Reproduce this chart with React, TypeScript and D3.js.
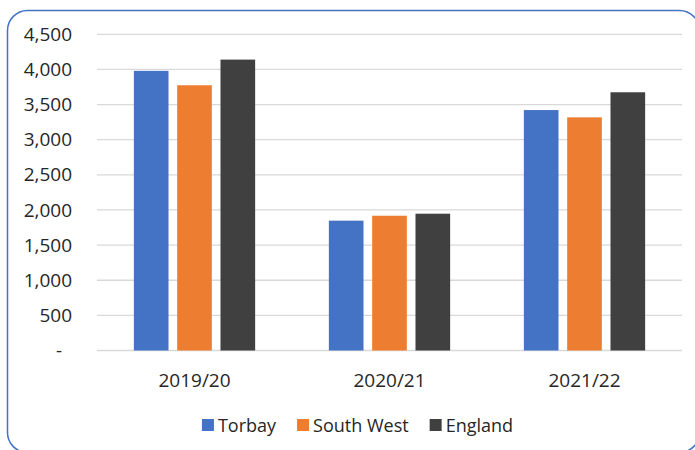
import React, { useEffect, useRef } from "react";
import * as d3 from "d3";

const categories = ["2019/20", "2020/21", "2021/22"];
const seriesNames = ["Torbay", "South West", "England"];
const torbay = [3980, 1848, 3422];
const southWest = [3775, 1918, 3318];
const england = [4140, 1947, 3675];
const yTicks = [0, 500, 1000, 1500, 2000, 2500, 3000, 3500, 4000, 4500];

const colors = ["#4472C4", "#ED7D31", "#404040"];
const FONT = "'Open Sans', 'Noto Sans', sans-serif";

const App: React.FC = () => {
  const svgRef = useRef<SVGSVGElement>(null);

  useEffect(() => {
    const width = 695;
    const height = 450;
    const margin = { top: 34.3, right: 13, bottom: 99.5, left: 97 };

    const svg = d3.select(svgRef.current).attr("width", width).attr("height", height);
    svg.selectAll("*").remove();

    // chart frame
    svg
      .append("rect")
      .attr("x", 7.5)
      .attr("y", 10.5)
      .attr("width", 692)
      .attr("height", 442)
      .attr("rx", 20)
      .attr("fill", "#fff")
      .attr("stroke", "#4472C4")
      .attr("stroke-width", 1.5);

    const x0 = d3
      .scaleBand()
      .domain(categories)
      .range([margin.left, width - margin.right])
      .paddingInner(0.378)
      .paddingOuter(0.189);

    const x1 = d3.scaleBand().domain(seriesNames).range([0, x0.bandwidth()]).paddingInner(0.2);

    const y = d3
      .scaleLinear()
      .domain([0, 4500])
      .range([height - margin.bottom, margin.top]);

    // gridlines
    svg
      .append("g")
      .selectAll("line")
      .data(yTicks)
      .enter()
      .append("line")
      .attr("x1", margin.left)
      .attr("x2", width - margin.right)
      .attr("y1", d => y(d))
      .attr("y2", d => y(d))
      .attr("stroke", "#d9d9d9")
      .attr("stroke-width", 1.3);

    // y labels
    svg
      .append("g")
      .selectAll("text")
      .data(yTicks)
      .enter()
      .append("text")
      .attr("x", d => (d === 0 ? 62 : 72))
      .attr("y", d => y(d))
      .attr("dy", "0.35em")
      .attr("text-anchor", "end")
      .style("font-family", FONT)
      .style("font-size", "19px")
      .style("fill", "#262626")
      .text(d => (d === 0 ? "-" : d3.format(",")(d)));

    const values = [torbay, southWest, england];

    // bars
    const groups = svg
      .append("g")
      .selectAll("g")
      .data(categories)
      .enter()
      .append("g")
      .attr("transform", d => `translate(${x0(d)},0)`);

    groups
      .selectAll("rect")
      .data((_, i) => seriesNames.map((s, k) => ({ s, k, v: values[k][i] })))
      .enter()
      .append("rect")
      .attr("x", d => x1(d.s)!)
      .attr("width", x1.bandwidth())
      .attr("y", d => y(d.v))
      .attr("height", d => y(0) - y(d.v))
      .attr("fill", d => colors[d.k]);

    // category labels
    svg
      .append("g")
      .selectAll("text")
      .data(categories)
      .enter()
      .append("text")
      .attr("x", d => x0(d)! + x0.bandwidth() / 2)
      .attr("y", 387)
      .attr("text-anchor", "middle")
      .style("font-family", FONT)
      .style("font-size", "19px")
      .style("fill", "#262626")
      .text(d => d);

    // legend
    const legend = svg.append("g");
    const items = legend
      .selectAll("g")
      .data(seriesNames)
      .enter()
      .append("g");

    items
      .append("rect")
      .attr("width", 12)
      .attr("height", 12)
      .attr("y", 419)
      .attr("fill", (_, i) => colors[i]);

    const texts = items
      .append("text")
      .attr("x", 16)
      .attr("y", 432)
      .style("font-family", FONT)
      .style("font-size", "18px")
      .style("fill", "#262626")
      .text(d => d);

    const widths: number[] = [];
    texts.each(function () {
      widths.push((this as SVGTextElement).getComputedTextLength());
    });
    const gap = 21;
    const total = widths.reduce((a, w) => a + 16 + w, 0) + gap * (widths.length - 1);
    let cx = 357.5 - total / 2;
    items.attr("transform", (_, i) => {
      const t = `translate(${cx},0)`;
      cx += 16 + widths[i] + gap;
      return t;
    });
  }, []);

  return (
    <div>
      <svg ref={svgRef} style={{ position: "absolute", left: 0, top: 0 }}></svg>
    </div>
  );
};

export default App;
